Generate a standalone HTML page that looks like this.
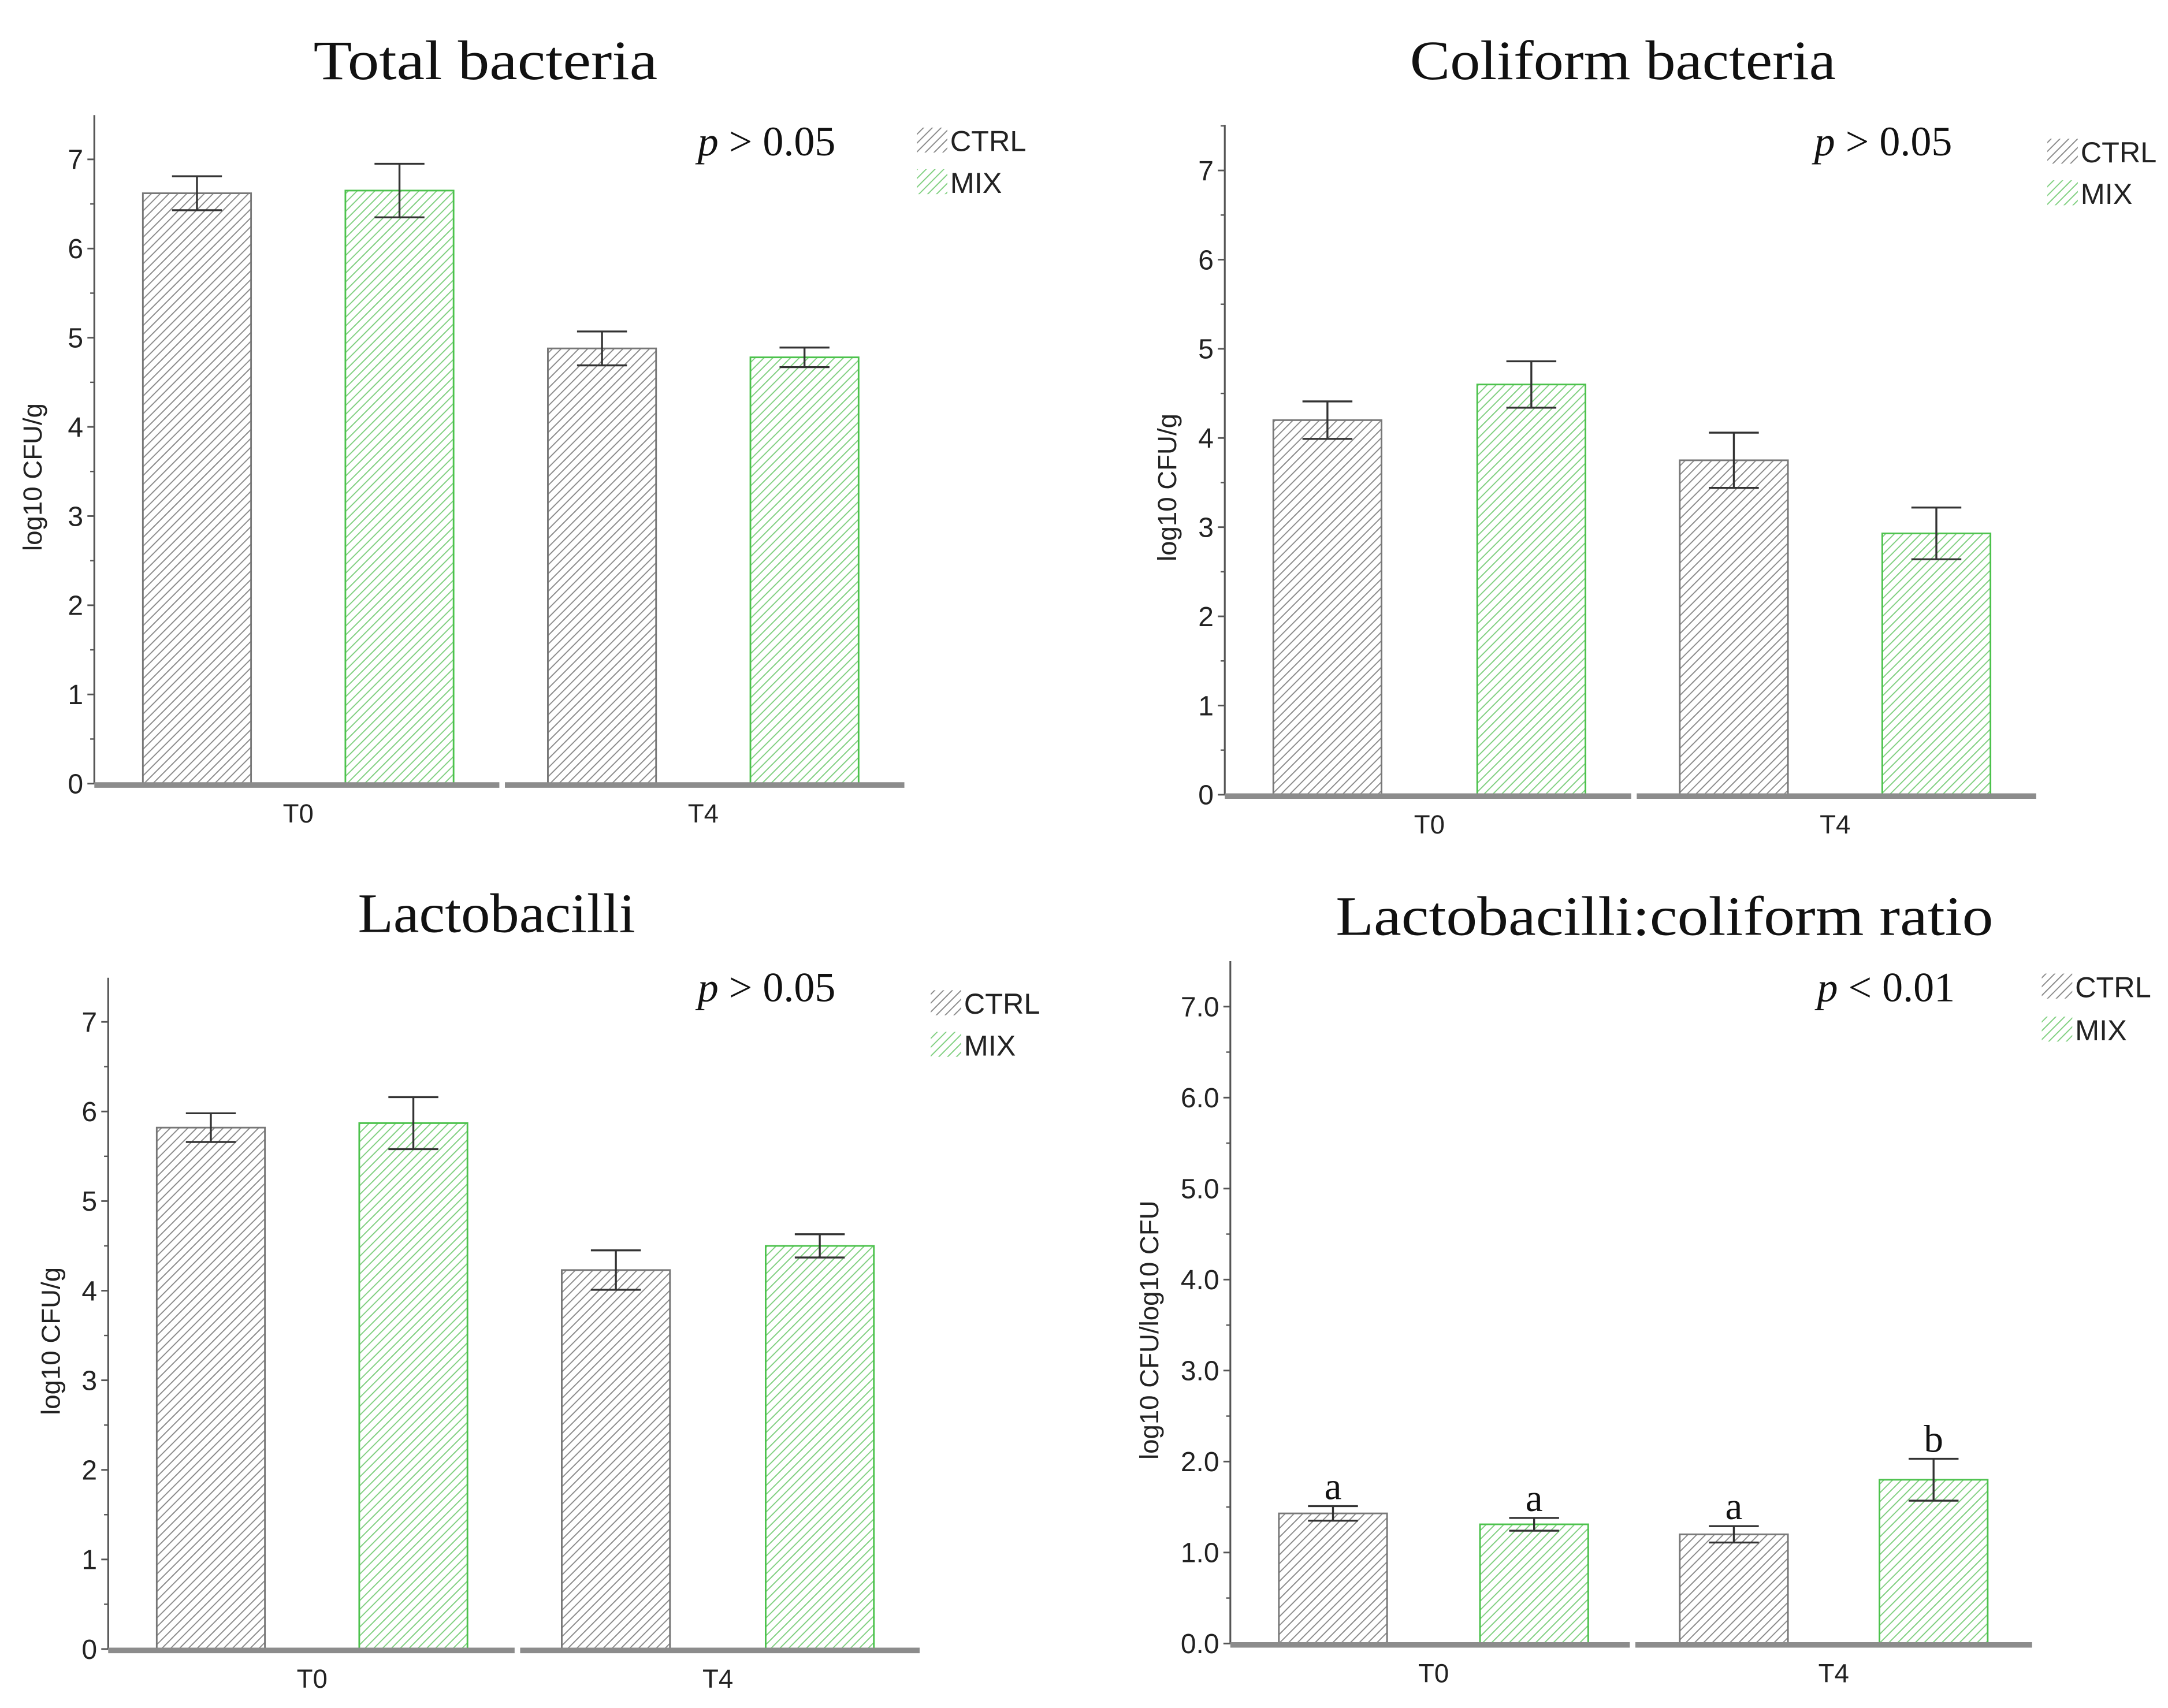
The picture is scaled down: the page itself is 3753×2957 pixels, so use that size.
<!DOCTYPE html>
<html><head><meta charset="utf-8"><style>
html,body{margin:0;padding:0;background:#fff;}
svg{display:block;}
</style></head><body>
<svg id="fig" width="3753" height="2957" viewBox="0 0 1563 1231.5" xmlns="http://www.w3.org/2000/svg">
<defs>
<pattern id="hatchGray" patternUnits="userSpaceOnUse" width="4.5" height="4.5" patternTransform="rotate(45)">
<rect width="4.5" height="4.5" fill="#fff"/><line x1="0" y1="0" x2="0" y2="4.5" stroke="#8a8a8a" stroke-width="1.6"/></pattern>
<pattern id="hatchGreen" patternUnits="userSpaceOnUse" width="4.5" height="4.5" patternTransform="rotate(45)">
<rect width="4.5" height="4.5" fill="#fff"/><line x1="0" y1="0" x2="0" y2="4.5" stroke="#7fcf7f" stroke-width="1.6"/></pattern>
</defs>
</svg>
<script>
// Data arrays
const categories = ["T0", "T4"];
const seriesNames = ["CTRL", "MIX"];
const titles = ["Total bacteria", "Coliform bacteria", "Lactobacilli", "Lactobacilli:coliform ratio"];
const pTexts = ["> 0.05", "> 0.05", "> 0.05", "< 0.01"];
const yTitles = ["log10 CFU/g", "log10 CFU/g", "log10 CFU/g", "log10 CFU/log10 CFU"];
// values per panel: [CTRL T0, MIX T0, CTRL T4, MIX T4]
const totalVals = [6.62, 6.65, 4.88, 4.78];
const totalErr = [0.19, 0.3, 0.19, 0.11];
const coliVals = [4.2, 4.6, 3.75, 2.93];
const coliErr = [0.21, 0.26, 0.31, 0.29];
const lactoVals = [5.82, 5.87, 4.23, 4.5];
const lactoErr = [0.16, 0.29, 0.22, 0.13];
const ratioVals = [1.43, 1.31, 1.2, 1.8];
const ratioErr = [0.08, 0.07, 0.09, 0.23];
const ratioLetters = ["a", "a", "a", "b"];
const tickLabelsInt = ["0","1","2","3","4","5","6","7"];
const tickLabelsDec = ["0.0","1.0","2.0","3.0","4.0","5.0","6.0","7.0"];

const NS = "http://www.w3.org/2000/svg";
const svg = document.getElementById("fig");
function mk(tag, attrs, parent, text){
  const e = document.createElementNS(NS, tag);
  for (const k in attrs) e.setAttribute(k, attrs[k]);
  if (text !== undefined) e.textContent = text;
  (parent||svg).appendChild(e);
  return e;
}
const layouts = [
  {ax:68, y0:565, top:83, unit:64.3, xEnd:652, split:362, barX:[103,249,395,541], bw:78, tx:350, ty:57, tw:248, px:503, py:112, lx:661, ly:[92,122], ylx:30},
  {ax:883, y0:573, top:90, unit:64.3, xEnd:1468, split:1178, barX:[918,1065,1211,1357], bw:78, tx:1170, ty:57, tw:307, px:1308, py:112, lx:1476, ly:[100,130], ylx:848},
  {ax:78, y0:1189, top:705, unit:64.6, xEnd:663, split:373, barX:[113,259,405,552], bw:78, tx:358, ty:672, tw:200, px:503, py:722, lx:671, ly:[714,744], ylx:43},
  {ax:887, y0:1185, top:693, unit:65.6, xEnd:1465, split:1177, barX:[922,1067,1211,1355], bw:78, tx:1200, ty:674, tw:474, px:1310, py:722, lx:1472, ly:[702,733], ylx:835}
];
const vals = [totalVals, coliVals, lactoVals, ratioVals];
const errs = [totalErr, coliErr, lactoErr, ratioErr];
const names = ["total-bacteria", "coliform-bacteria", "lactobacilli", "ratio"];
const sans = "'Liberation Sans', sans-serif";
const serif = "'Liberation Serif', serif";

layouts.forEach((L, pi) => {
  const g = mk("g", {});
  
  
  const yS = v => L.y0 - v * L.unit;
  const t = mk("text", {x:L.tx, y:L.ty, "text-anchor":"middle", "font-family":serif, "font-size":40, fill:"#111", textLength:L.tw, lengthAdjust:"spacingAndGlyphs"}, g, titles[pi]);
  
  
  const ya = mk("line", {x1:L.ax, y1:L.top, x2:L.ax, y2:L.y0, stroke:"#555", "stroke-width":1.3}, g);
  
  
  const labels = pi === 3 ? tickLabelsDec : tickLabelsInt;
  labels.forEach((lab, i) => {
    const y = yS(i);
    mk("line", {x1:L.ax-5, y1:y, x2:L.ax, y2:y, stroke:"#555", "stroke-width":1.2}, g);
    const my = yS(i + 0.5);
    if (my > L.top) mk("line", {x1:L.ax-3, y1:my, x2:L.ax, y2:my, stroke:"#555", "stroke-width":1}, g);
    const tl = mk("text", {x:L.ax-8, y:y+7, "text-anchor":"end", "font-family":sans, "font-size":20, fill:"#222"}, g, lab);
    
    
  });
  const yt = mk("text", {x:L.ylx, y:(L.top+L.y0)/2+20, transform:`rotate(-90 ${L.ylx} ${(L.top+L.y0)/2+20})`, "text-anchor":"middle", "font-family":sans, "font-size":19, fill:"#222"}, g, yTitles[pi]);
  
  
  vals[pi].forEach((v, i) => {
    const x = L.barX[i];
    const isMix = i % 2 === 1;
    const b = mk("rect", {x:x, y:yS(v), width:L.bw, height:L.y0 - yS(v), fill:isMix?"url(#hatchGreen)":"url(#hatchGray)", stroke:isMix?"#4cc24c":"#777", "stroke-width":1.2}, g);
    
    
    const cx = x + L.bw/2, e = errs[pi][i];
    const eb = mk("path", {d:`M${cx-18},${yS(v+e)}H${cx+18}M${cx},${yS(v+e)}V${yS(v-e)}M${cx-18},${yS(v-e)}H${cx+18}`, stroke:"#333", "stroke-width":1.4, fill:"none"}, g);
    
    
    if (pi === 3) {
      const lt = mk("text", {x:cx, y:yS(v+e)-5, "text-anchor":"middle", "font-family":serif, "font-size":28, fill:"#111"}, g, ratioLetters[i]);
      
      
    }
  });
  const xa = mk("path", {d:`M${L.ax},${L.y0+1}H${L.split-2}M${L.split+2},${L.y0+1}H${L.xEnd}`, stroke:"#8c8c8c", "stroke-width":4, fill:"none"}, g);
  
  
  categories.forEach((c, ci) => {
    const cx = (L.barX[ci*2] + L.barX[ci*2+1] + L.bw) / 2;
    const xl = mk("text", {x:cx, y:L.y0+28, "text-anchor":"middle", "font-family":sans, "font-size":19, fill:"#222"}, g, c);
    
    
  });
  const pt = mk("text", {x:L.px, y:L.py, "font-family":serif, "font-size":30, fill:"#111"}, g);
  
  
  mk("tspan", {"font-style":"italic"}, pt, "p");
  mk("tspan", {}, pt, " " + pTexts[pi]);
  seriesNames.forEach((s, si) => {
    const lg = mk("g", {}, g);
    
    
    mk("rect", {x:L.lx, y:L.ly[si], width:22, height:18, fill:si?"url(#hatchGreen)":"url(#hatchGray)"}, lg);
    mk("text", {x:L.lx+24, y:L.ly[si]+17, "font-family":sans, "font-size":21, fill:"#222"}, lg, s);
  });
});
</script>
</body></html>
